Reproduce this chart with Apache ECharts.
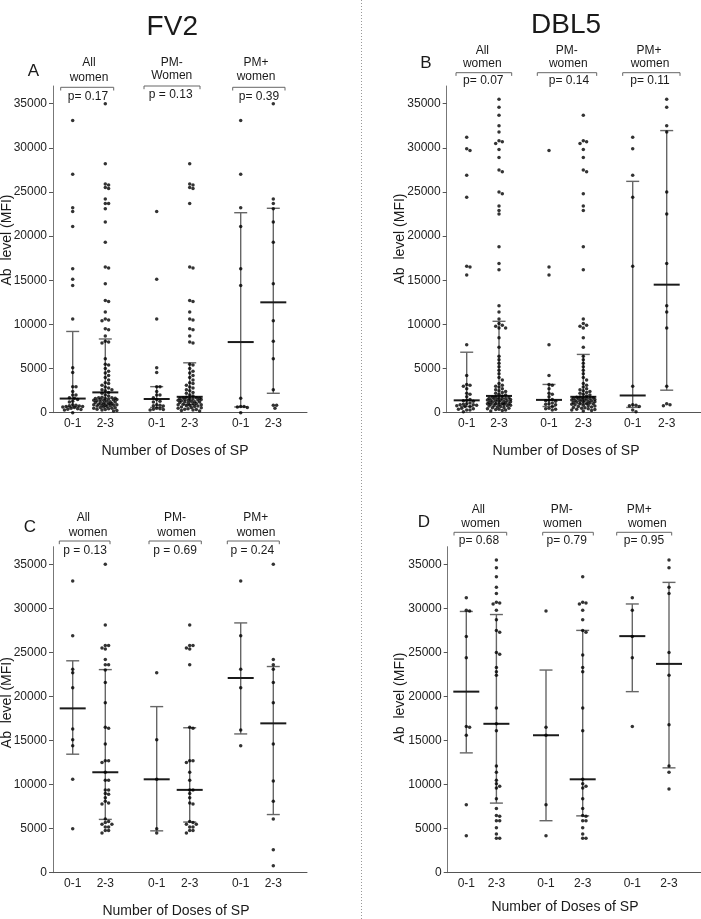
<!DOCTYPE html>
<html><head><meta charset="utf-8">
<script src="https://cdn.jsdelivr.net/npm/echarts@6.0.0/dist/echarts.min.js"></script>
<style>html,body{margin:0;padding:0;background:#fff}#c{width:701px;height:919px}</style>
</head><body><div id="c"></div>
<script>
// ---------- DATA ----------
const doseLabels = ['0-1', '2-3'];
const yTicks = [0, 5000, 10000, 15000, 20000, 25000, 30000, 35000];
const antigenTitles = ['FV2', 'DBL5'];
const panelLetters = ['A', 'B', 'C', 'D'];
const groupNamesA = [['All', 'women'], ['PM-', 'Women'], ['PM+', 'women']];
const groupNamesB = [['All', 'women'], ['PM-', 'women'], ['PM+', 'women']];
const groupNamesC = [['All', 'women'], ['PM-', 'women'], ['PM+', 'women']];
const groupNamesD = [['All', 'women'], ['PM-', 'women'], ['PM+', 'women']];
const pValuesA = ['p= 0.17', 'p = 0.13', 'p= 0.39'];
const pValuesB = ['p= 0.07', 'p= 0.14', 'p= 0.11'];
const pValuesC = ['p = 0.13', 'p = 0.69', 'p = 0.24'];
const pValuesD = ['p= 0.68', 'p= 0.79', 'p= 0.95'];

// Panel A (FV2)
const A_all_01 = [33100, 27000, 23200, 22800, 21100, 16300, 15100, 14400, 10600, 5100, 4550, 2950, 2950, 2400, 2000, 2000, 1700, 1650, 1500, 1300, 1200, 900, 850, 800, 750, 700, 700, 650, 600, 500, 450, 400, 350, 300, 0];
const A_all_23 = [35000, 28200, 25900, 25800, 25500, 25400, 24200, 23700, 23700, 23100, 21600, 19300, 16500, 16400, 14600, 12700, 12600, 11400, 10600, 10500, 10400, 9500, 9400, 8700, 8100, 8000, 7900, 6100, 5500, 5400, 5000, 4700, 4500, 4200, 4000, 3700, 3400, 3300, 3100, 2900, 2800, 2600, 2600, 2500, 2300, 2200, 2000, 1900, 1750, 1700, 1700, 1650, 1600, 1600, 1550, 1500, 1500, 1450, 1400, 1400, 1350, 1300, 1250, 1200, 1200, 1150, 1100, 1050, 1000, 950, 900, 900, 850, 850, 850, 800, 750, 700, 650, 600, 550, 500, 500, 450, 400, 350, 300, 250, 200];
const A_neg_01 = [22800, 15100, 10600, 5100, 4550, 2950, 2950, 2400, 2000, 2000, 1700, 1500, 1300, 1200, 900, 850, 800, 750, 500, 450, 400, 350, 300];
const A_neg_23 = [28200, 25900, 25800, 25500, 25400, 23700, 16500, 16400, 12700, 12600, 11400, 10600, 10500, 9500, 9400, 8700, 8000, 7900, 5500, 5400, 5000, 4700, 4500, 4200, 4000, 3700, 3400, 3300, 3100, 2900, 2800, 2600, 2500, 2300, 2200, 2000, 1900, 1750, 1700, 1700, 1650, 1600, 1600, 1550, 1500, 1500, 1450, 1400, 1400, 1350, 1300, 1250, 1200, 1200, 1150, 1100, 1050, 1000, 950, 900, 900, 850, 800, 750, 700, 650, 600, 550, 500, 450, 400, 350, 300, 250, 200];
const A_pos_01 = [33100, 27000, 23200, 21100, 16300, 14400, 1650, 700, 700, 650, 600, 0];
const A_pos_23 = [35000, 24200, 23700, 23100, 21600, 19300, 14600, 10400, 8100, 6100, 2600, 850, 850, 500];
const A_median = [1600, 2300, 1550, 1800, 8000, 12500];
const A_lower = [650, 1000, 600, 900, 650, 2200];
const A_upper = [9200, 8350, 2950, 5650, 22650, 23150];

// Panel B (DBL5)
const B_all_01 = [31200, 29900, 29700, 26900, 24400, 16600, 16500, 15600, 7700, 4200, 3200, 3100, 3000, 2700, 2200, 2100, 1800, 1500, 1400, 1350, 1300, 1100, 1000, 950, 900, 900, 850, 800, 700, 700, 500, 450, 400, 300, 300, 100];
const B_all_23 = [35500, 34600, 33700, 32500, 31800, 30800, 30700, 30500, 29800, 28900, 27500, 27300, 25000, 24800, 23400, 22900, 22500, 18800, 16900, 16200, 12100, 11400, 10600, 10100, 9900, 9800, 9600, 9600, 8500, 7400, 6400, 6000, 5600, 5200, 4800, 4400, 4000, 3700, 3300, 3100, 3000, 2900, 2700, 2600, 2500, 2400, 2300, 2200, 2100, 2000, 1900, 1780, 1750, 1700, 1680, 1650, 1600, 1600, 1550, 1500, 1500, 1450, 1400, 1400, 1350, 1300, 1300, 1250, 1200, 1200, 1150, 1100, 1050, 1000, 1000, 1000, 950, 900, 900, 850, 800, 800, 750, 700, 650, 600, 550, 500, 450, 400, 350, 300, 250, 200];
const B_neg_01 = [29700, 16500, 15600, 7700, 4200, 3200, 3100, 2700, 2200, 2100, 1800, 1500, 1400, 1350, 1300, 1100, 1000, 950, 900, 700, 500, 450, 400, 300];
const B_neg_23 = [33700, 30800, 30700, 30500, 29800, 28900, 27500, 27300, 24800, 23400, 22900, 18800, 16200, 10600, 10100, 9900, 9800, 9600, 8500, 7400, 6400, 6000, 5600, 5200, 4800, 4400, 4000, 3700, 3300, 3100, 2900, 2700, 2600, 2500, 2400, 2300, 2200, 2100, 2000, 1900, 1780, 1750, 1700, 1680, 1650, 1600, 1600, 1550, 1500, 1500, 1450, 1400, 1400, 1350, 1300, 1300, 1250, 1200, 1200, 1150, 1100, 1050, 1000, 1000, 950, 900, 850, 800, 750, 700, 650, 600, 550, 500, 450, 400, 350, 300, 250, 200];
const B_pos_01 = [31200, 29900, 26900, 24400, 16600, 3000, 900, 850, 800, 700, 300, 100];
const B_pos_23 = [35500, 34600, 32500, 31800, 25000, 22500, 16900, 12100, 11400, 9600, 3000, 1000, 900, 800];
const B_median = [1400, 1900, 1450, 1800, 1950, 14500];
const B_lower = [700, 1000, 700, 1000, 600, 2550];
const B_upper = [6850, 10350, 3200, 6600, 26200, 31950];

// Panel C (FV2)
const C_all_01 = [33100, 26900, 23100, 22700, 21000, 16300, 15100, 14400, 10600, 5000];
const C_all_23 = [35000, 28100, 25800, 25800, 25500, 25400, 24200, 23600, 23600, 23000, 21600, 19300, 16500, 16400, 14600, 12700, 12700, 12500, 11400, 10500, 10500, 9400, 9400, 9000, 8900, 8500, 8100, 7900, 7800, 6100, 5800, 5700, 5500, 5500, 5200, 5200, 4800, 4800, 4500];
const C_neg_01 = [22700, 15100, 10600, 5000, 4500];
const C_neg_23 = [28100, 25800, 25800, 25500, 25400, 23600, 16500, 16400, 12700, 12700, 12500, 11400, 10500, 9400, 9400, 9000, 8500, 7900, 7800, 5800, 5700, 5500, 5500, 5200, 5200, 4800, 4800, 4500];
const C_pos_01 = [33100, 26900, 23100, 21000, 16200, 14400];
const C_pos_23 = [35000, 24200, 23600, 23100, 21600, 19300, 14600, 10400, 8100, 6100, 2600, 800];
const C_median = [18650, 11400, 10600, 9400, 22100, 16950];
const C_lower = [13450, 6050, 4750, 5750, 15750, 6600];
const C_upper = [24050, 23050, 18850, 16450, 28350, 23400];

// Panel D (DBL5)
const D_all_01 = [31200, 29800, 29700, 26800, 24400, 16600, 16500, 15600, 7700, 4200];
const D_all_23 = [35500, 34600, 33600, 32400, 31700, 30700, 30600, 30500, 29800, 28700, 27500, 27300, 25000, 24800, 23300, 22800, 22400, 18700, 16900, 16100, 12100, 11400, 10500, 10100, 9800, 9600, 8400, 7300, 6500, 6400, 5900, 5900, 5100, 4400, 3900, 3900];
const D_neg_01 = [29700, 16500, 15600, 7700, 4200];
const D_neg_23 = [33600, 30700, 30600, 30500, 29800, 28700, 27500, 27300, 24700, 23300, 22800, 18700, 16100, 10600, 10100, 9800, 9600, 8400, 7300, 6500, 6400, 5900, 5900, 5100, 4400, 3900, 3900];
const D_pos_01 = [31200, 29800, 26800, 24400, 16600];
const D_pos_23 = [35500, 34600, 32400, 31700, 25000, 22400, 16800, 12100, 11400, 9500];
const D_median = [20550, 16900, 15600, 10600, 26850, 23700];
const D_lower = [13600, 7900, 5900, 6450, 20550, 11900];
const D_upper = [29650, 29300, 23000, 27500, 30500, 32950];

// ---------- LAYOUT ----------
const FONT = 'Liberation Sans, Arial, Helvetica, sans-serif';
const YMAX = 37000;
const panels = [
  { cols: [A_all_01, A_all_23, A_neg_01, A_neg_23, A_pos_01, A_pos_23], med: A_median, lo: A_lower, hi: A_upper,
    grid: { left: 53, top: 86, width: 254, height: 326.7 }, xs: [19.7, 52.3, 103.7, 136.7, 187.7, 220.3] },
  { cols: [B_all_01, B_all_23, B_neg_01, B_neg_23, B_pos_01, B_pos_23], med: B_median, lo: B_lower, hi: B_upper,
    grid: { left: 446.7, top: 86, width: 254, height: 326.7 }, xs: [20, 52.3, 102.3, 136.6, 186, 220] },
  { cols: [C_all_01, C_all_23, C_neg_01, C_neg_23, C_pos_01, C_pos_23], med: C_median, lo: C_lower, hi: C_upper,
    grid: { left: 53, top: 546.7, width: 254, height: 326 }, xs: [19.7, 52.3, 103.7, 136.7, 187.7, 220.3] },
  { cols: [D_all_01, D_all_23, D_neg_01, D_neg_23, D_pos_01, D_pos_23], med: D_median, lo: D_lower, hi: D_upper,
    grid: { left: 447.7, top: 546.7, width: 253, height: 326 }, xs: [18.6, 48.7, 98.3, 135, 184.6, 221.3] }
];

// beeswarm placement (pixel-based, deterministic), width-limited
function swarm(values, cx, pxPerUnit, d, maxOff) {
  const pts = values.map(v => ({ v, y: v * pxPerUnit })).sort((a, b) => b.y - a.y);
  const placed = [], out = [];
  const cands = [0];
  for (let k = 1; k * d / 2 <= maxOff; k++) { cands.push(k * d / 2, -k * d / 2); }
  for (const p of pts) {
    let chosen = null, bestC = 0, bestD = -1;
    for (const c of cands) {
      let md = 1e9;
      for (const q of placed) {
        const dx = q.x - c, dy = q.y - p.y;
        const dd = Math.sqrt(dx * dx + dy * dy);
        if (dd < md) md = dd;
      }
      if (md >= d) { chosen = c; break; }
      if (md > bestD) { bestD = md; bestC = c; }
    }
    if (chosen === null) chosen = bestC;
    placed.push({ x: chosen, y: p.y });
    out.push([cx + chosen, p.v]);
  }
  return out;
}

const grids = [], xAxes = [], yAxes = [], series = [];
panels.forEach((P, i) => {
  grids.push(Object.assign({ containLabel: false }, P.grid));
  const xs = P.xs;
  xAxes.push({
    type: 'value', gridIndex: i, min: 0, max: P.grid.width,
    splitLine: { show: false },
    axisLine: { show: true, lineStyle: { color: '#555', width: 1 } },
    axisTick: { show: false },
    axisLabel: {
      customValues: xs, margin: 5, color: '#222', fontSize: 12, fontFamily: FONT,
      formatter: function (val) {
        let idx = 0, best = 1e9;
        xs.forEach((p, j) => { const dd = Math.abs(p - val); if (dd < best) { best = dd; idx = j; } });
        return doseLabels[idx % 2];
      }
    }
  });
  yAxes.push({
    type: 'value', gridIndex: i, min: 0, max: YMAX,
    splitLine: { show: false },
    axisLine: { show: true, lineStyle: { color: '#777', width: 1 } },
    axisTick: { show: true, length: 4, customValues: yTicks, lineStyle: { color: '#555' } },
    axisLabel: { customValues: yTicks, margin: 6, color: '#222', fontSize: 12, fontFamily: FONT,
      formatter: function (v) { return String(v); } }
  });
  const pxPerUnit = P.grid.height / YMAX;
  let pts = [];
  P.cols.forEach((vals, j) => { pts = pts.concat(swarm(vals, xs[j], pxPerUnit, 3.3, 13)); });
  const bars = P.cols.map((_, j) => [xs[j], P.med[j], P.lo[j], P.hi[j]]);
  series.push({
    type: 'custom', xAxisIndex: i, yAxisIndex: i, data: bars, z: 2, silent: true,
    renderItem: function (params, api) {
      const x = api.value(0);
      const pm = api.coord([x, api.value(1)]);
      const pl = api.coord([x, api.value(2)]);
      const ph = api.coord([x, api.value(3)]);
      const ws = { stroke: '#666', lineWidth: 1.4 };
      return { type: 'group', children: [
        { type: 'line', shape: { x1: ph[0], y1: ph[1], x2: pl[0], y2: pl[1] }, style: ws },
        { type: 'line', shape: { x1: ph[0] - 6.5, y1: ph[1], x2: ph[0] + 6.5, y2: ph[1] }, style: ws },
        { type: 'line', shape: { x1: pl[0] - 6.5, y1: pl[1], x2: pl[0] + 6.5, y2: pl[1] }, style: ws },
        { type: 'line', shape: { x1: pm[0] - 13, y1: pm[1], x2: pm[0] + 13, y2: pm[1] }, style: { stroke: '#1a1a1a', lineWidth: 2 } }
      ] };
    }
  });
  series.push({
    type: 'scatter', xAxisIndex: i, yAxisIndex: i, data: pts, z: 3, silent: true,
    symbol: 'circle', symbolSize: 3.5, itemStyle: { color: '#000' }
  });
});

// ---------- ANNOTATIONS ----------
const G = [];
function txt(x, y, s, size, extra) {
  G.push(Object.assign({ type: 'text', x: x, y: y, silent: true,
    style: { text: s, fontSize: size, fontFamily: FONT, fill: '#1a1a1a', align: 'center', verticalAlign: 'middle' } }, extra || {}));
}
function bracket(x1, x2, y) {
  G.push({ type: 'polyline', silent: true, shape: { points: [[x1, y + 3.2], [x1, y], [x2, y], [x2, y + 3.2]] },
    style: { stroke: '#666', lineWidth: 1, fill: null } });
}
// divider
G.push({ type: 'line', silent: true, shape: { x1: 361.5, y1: 0, x2: 361.5, y2: 919 },
  style: { stroke: '#999', lineWidth: 1, lineDash: [1, 2] } });
// titles
txt(172.3, 27, antigenTitles[0], 28);
txt(566, 25, antigenTitles[1], 28);
// letters
txt(33.3, 71, panelLetters[0], 17);
txt(426, 63.3, panelLetters[1], 17);
txt(30, 527.3, panelLetters[2], 17);
txt(424, 522.3, panelLetters[3], 17);

const ann = [
  { names: groupNamesA, p: pValuesA, l1: [[89, 63], [171.7, 62.3], [256, 62.7]], l2: [[89, 78], [171.7, 76], [256, 76.7]],
    br: [[60.7, 113.7, 87.3], [144, 200, 86], [232.7, 285, 87.3]], pv: [[88, 96.7], [170.7, 94.3], [259, 96.7]] },
  { names: groupNamesB, p: pValuesB, l1: [[482.3, 50.7], [566.7, 50.7], [649, 50.7]], l2: [[482.3, 64], [568.3, 64], [650, 64]],
    br: [[456, 511.7, 72.7], [537.3, 596.7, 72.7], [622.7, 680, 72.7]], pv: [[483.3, 81], [569, 81], [650, 81]] },
  { names: groupNamesC, p: pValuesC, l1: [[83.3, 517.3], [175, 517.3], [255.7, 517.3]], l2: [[88, 532.7], [176.7, 532.7], [256, 532.7]],
    br: [[59.3, 110, 541], [149, 201.3, 541], [227.3, 279.3, 541]], pv: [[85, 550.7], [175, 550.7], [252.3, 550.7]] },
  { names: groupNamesD, p: pValuesD, l1: [[478.3, 509.3], [561.7, 509.3], [639.3, 509.3]], l2: [[480.7, 523.3], [562.7, 523.3], [647.3, 523.3]],
    br: [[454, 506.7, 532.3], [542.7, 593.3, 532.3], [616.7, 671.7, 532.3]], pv: [[479, 541], [566.7, 541], [644, 541]] }
];
ann.forEach(a => {
  for (let g = 0; g < 3; g++) {
    txt(a.l1[g][0], a.l1[g][1], a.names[g][0], 12);
    txt(a.l2[g][0], a.l2[g][1], a.names[g][1], 12);
    bracket(a.br[g][0], a.br[g][1], a.br[g][2]);
    txt(a.pv[g][0], a.pv[g][1], a.p[g], 12);
  }
});
// axis titles
const yTitle = 'Ab  level (MFI)';
const xTitle = 'Number of Doses of SP';
[[7, 240], [400, 239], [7, 702.7], [400, 698]].forEach(p => txt(p[0], p[1], yTitle, 14, { rotation: Math.PI / 2 }));
[[175, 451], [566, 451], [176, 910.7], [565, 906.7]].forEach(p => txt(p[0], p[1], xTitle, 14));

const chart = echarts.init(document.getElementById('c'), null, { renderer: 'canvas' });
chart.setOption({
  animation: false, backgroundColor: '#fff',
  grid: grids, xAxis: xAxes, yAxis: yAxes, series: series, graphic: { elements: G }
});
</script></body></html>
